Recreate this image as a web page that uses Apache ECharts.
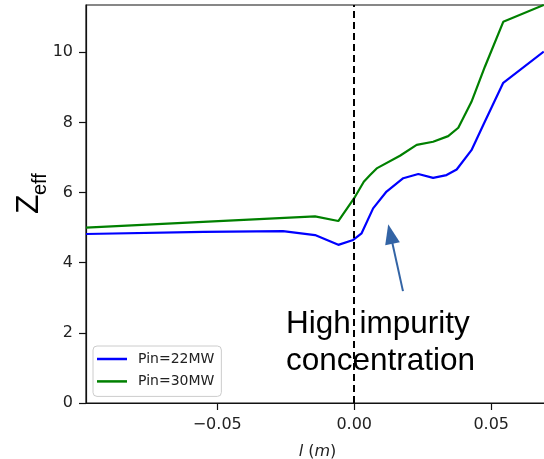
<!DOCTYPE html>
<html><head><meta charset="utf-8">
<script src="https://cdn.jsdelivr.net/npm/echarts@6/dist/echarts.min.js"></script>
<style>html,body{margin:0;padding:0;background:#fff}#c{width:544px;height:459px}</style>
</head><body><div id="c"></div>
<script>
const seriesNames = ['Pin=22MW', 'Pin=30MW'];
const blueX = [-0.0979, -0.055, -0.026, -0.0143, -0.0058, -0.0004, 0.0027, 0.0069, 0.0118, 0.0179, 0.0234, 0.0288, 0.0337, 0.0374, 0.0428, 0.0471, 0.0544, 0.0692];
const blueY = [4.82, 4.88, 4.90, 4.79, 4.51, 4.65, 4.84, 5.55, 6.03, 6.41, 6.53, 6.42, 6.50, 6.66, 7.21, 7.93, 9.13, 10.02];
const greenX = [-0.0979, -0.0143, -0.0058, 0.0003, 0.0035, 0.0058, 0.0082, 0.0167, 0.0228, 0.0288, 0.0343, 0.0380, 0.0428, 0.0477, 0.0544, 0.0692];
const greenY = [5.00, 5.32, 5.19, 5.88, 6.31, 6.50, 6.69, 7.05, 7.36, 7.45, 7.61, 7.85, 8.59, 9.59, 10.87, 11.35];
const xTicks = [-0.05, 0, 0.05];
const yTicks = [0, 2, 4, 6, 8, 10];
const annotationLines = ['High impurity', 'concentration'];
const arrowTail = [0.0178, 3.19];
const arrowHead = [0.0132, 4.82];
const separatorX = 0;

const zip = (xs, ys) => xs.map((x, i) => [x, ys[i]]);
const fmtX = v => (v < 0 ? '\u2212' : '') + Math.abs(v).toFixed(2);

const chart = echarts.init(document.getElementById('c'), null, {renderer: 'canvas'});
const tickFont = {fontFamily: 'DejaVu Sans', fontSize: 16, color: '#222'};
chart.setOption({
  animation: false,
  backgroundColor: '#fff',
  grid: {left: 86, right: -5, top: 5, bottom: 56, outerBoundsMode: 'none', containLabel: false, show: true, borderColor: '#111', borderWidth: 1.2, backgroundColor: 'transparent'},
  xAxis: {
    type: 'value', min: -0.0979, max: 0.0711,
    axisLine: {show: true, onZero: false, lineStyle: {color: '#111', width: 1.2}},
    axisTick: {show: true, length: 7, customValues: xTicks, lineStyle: {color: '#111', width: 1.2}},
    axisLabel: Object.assign({customValues: xTicks, formatter: fmtX, margin: 14}, tickFont),
    splitLine: {show: false},
    name: '{i|l} ({i|m})', nameLocation: 'middle', nameGap: 41,
    nameTextStyle: {fontFamily: 'DejaVu Sans', fontSize: 16, color: '#222', rich: {i: {fontStyle: 'italic', fontFamily: 'DejaVu Sans', fontSize: 16, color: '#222'}}}
  },
  yAxis: {
    type: 'value', min: 0, max: 11.35,
    axisLine: {show: true, onZero: false, lineStyle: {color: '#111', width: 1.2}},
    axisTick: {show: true, length: 7, customValues: yTicks, lineStyle: {color: '#111', width: 1.2}},
    axisLabel: Object.assign({customValues: yTicks, margin: 13}, tickFont),
    splitLine: {show: false}
  },
  legend: {
    orient: 'vertical', left: 93, top: 346,
    data: seriesNames.map(n => ({name: n, icon: 'rect'})),
    itemWidth: 30, itemHeight: 2.5, itemGap: 8.4,
    padding: [6, 7, 8, 4],
    textStyle: {fontFamily: 'DejaVu Sans', fontSize: 14, color: '#222', padding: [0, 0, 0, 6]},
    backgroundColor: 'rgba(255,255,255,0.8)', borderColor: '#ccc', borderWidth: 1, borderRadius: 4
  },
  series: [
    {
      name: seriesNames[0], type: 'line', data: zip(blueX, blueY), symbol: 'none',
      lineStyle: {color: '#0000ff', width: 2.2}, itemStyle: {color: '#0000ff'},
      markLine: {
        silent: true, symbol: ['none', 'none'], animation: false, label: {show: false},
        data: [
          {xAxis: separatorX, lineStyle: {type: [7, 4], color: '#000', width: 2}},
          [
            {coord: arrowTail, symbol: 'none', lineStyle: {type: 'solid', color: '#3364a5', width: 2}},
            {coord: arrowHead, symbol: 'triangle', symbolSize: [15, 20], lineStyle: {type: 'solid', color: '#3364a5', width: 2}, itemStyle: {color: '#3364a5'}}
          ]
        ]
      }
    },
    {
      name: seriesNames[1], type: 'line', data: zip(greenX, greenY), symbol: 'none',
      lineStyle: {color: '#008000', width: 2.2}, itemStyle: {color: '#008000'}
    }
  ],
  graphic: [
    {type: 'text', left: 286, top: 306, style: {text: annotationLines.join('\n'), font: '31.5px "Liberation Sans"', lineHeight: 37, fill: '#000'}},
    {type: 'text', x: 29, y: 214, rotation: Math.PI / 2, style: {text: 'Z', font: '32px "Liberation Sans"', fill: '#000', align: 'left', verticalAlign: 'middle'}},
    {type: 'text', x: 40, y: 195, rotation: Math.PI / 2, style: {text: 'eff', font: '20px "Liberation Sans"', fill: '#000', align: 'left', verticalAlign: 'middle'}}
  ]
});
</script></body></html>
